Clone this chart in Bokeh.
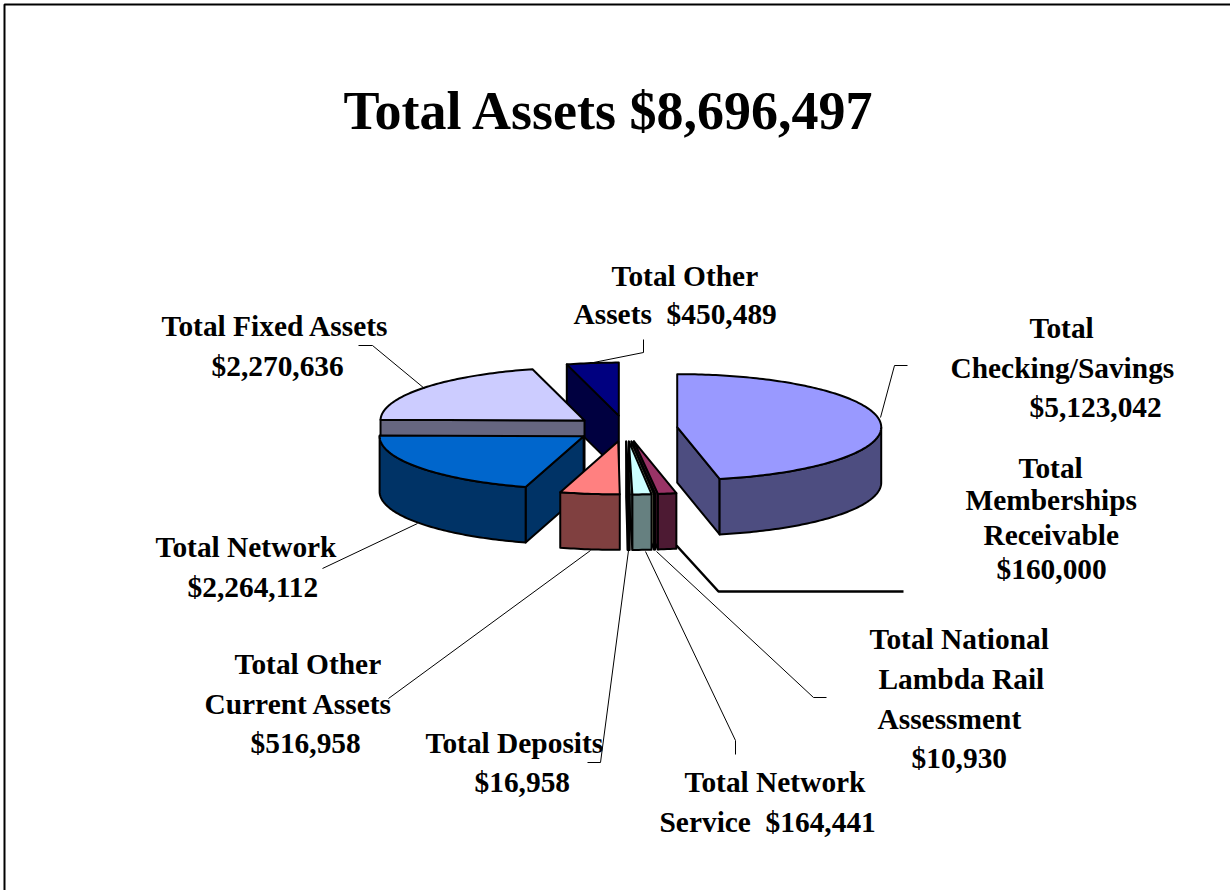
import math
from bokeh.embed import file_html
from bokeh.resources import INLINE
from bokeh.plotting import figure
from bokeh.core.properties import value

# ---- data (in drawing order, clockwise from 12 o'clock) ----
names = ["Total Checking/Savings", "Total Memberships Receivable",
         "Total National Lambda Rail Assessment", "Total Network Service",
         "Total Deposits", "Total Other Current Assets", "Total Network",
         "Total Fixed Assets", "Total Other Assets"]
amounts = [5123042, 160000, 10930, 164441, 16958, 516958, 2264112, 2270636, 450489]
top_colors = ["#9999FF", "#993366", "#FFFFCC", "#CCFFFF", "#660066",
              "#FF8080", "#0066CC", "#CCCCFF", "#000080"]
side_colors = ["#4D4D80", "#4D1A33", "#808066", "#668080", "#330033",
               "#804040", "#003366", "#666680", "#000040"]
paint_order = [8, 7, 6, 0, 1, 2, 3, 4, 5]

title_text = "Total Assets $8,696,497"
label_lines = ["Total Other", "Assets\u00a0\u00a0$450,489",
               "Total Fixed Assets", "$2,270,636",
               "Total", "Checking/Savings", "$5,123,042",
               "Total", "Memberships", "Receivable", "$160,000",
               "Total Network", "$2,264,112",
               "Total Other", "Current Assets", "$516,958",
               "Total Deposits", "$16,958",
               "Total National", "Lambda Rail", "Assessment", "$10,930",
               "Total Network", "Service\u00a0\u00a0$164,441"]

# ---- layout (page pixels) ----
label_x = [611, 573, 161, 211, 1029, 950, 1029, 1018, 965, 983, 996, 155, 187,
           234, 204, 250, 425, 474, 869, 878, 877, 911, 684, 659]
label_y = [275, 313, 325, 365, 327, 367, 406, 467, 499, 534, 568, 546, 586,
           663, 703, 742, 742, 781, 638, 678, 718, 757, 781, 821]
leaders = [
    ([358, 372, 424], [345, 345, 388], 1),
    ([593, 643, 643], [362, 352, 339], 1),
    ([880, 894, 907], [417, 365, 365], 1),
    ([417, 322], [523, 568], 1),
    ([590, 388], [550, 698], 1),
    ([628, 600, 587], [550, 762, 762], 1),
    ([645, 735, 735], [551, 740, 754], 1),
    ([656, 813, 826], [551, 697, 697], 1),
    ([676, 718, 903], [545, 591, 591], 2.5),
]
CX, CY, RX, RY, EX, EY, DEPTH = 625, 428, 204, 53, 52, 13, 55.5

W, H = 1230, 890
p = figure(width=W, height=H, x_range=(0, W), y_range=(H, 0), toolbar_location=None,
           output_backend="svg", min_border=0, outline_line_color=None,
           background_fill_color="white", border_fill_color="white")
p.axis.visible = False
p.grid.visible = False

total = sum(amounts)
edges = [0.0]
for v in amounts:
    edges.append(edges[-1] + 360.0 * v / total)

xs, ys, fills = [], [], []
def add(poly, color):
    xs.append([q[0] for q in poly]); ys.append([q[1] for q in poly]); fills.append(color)

for i in paint_order:
    a0, a1 = edges[i], edges[i + 1]
    mid = math.radians((a0 + a1) / 2)
    ax = CX + EX * math.sin(mid)
    ay = CY - EY * math.cos(mid)
    def pt(deg):
        r = math.radians(deg)
        return (ax + RX * math.sin(r), ay - RY * math.cos(r))
    def down(q):
        return (q[0], q[1] + DEPTH)
    if a0 > 180:          # start face turned to the viewer
        e = pt(a0)
        add([(ax, ay), e, down(e), (ax, ay + DEPTH)], side_colors[i])
    if a1 < 180:          # end face turned to the viewer
        e = pt(a1)
        add([(ax, ay), e, down(e), (ax, ay + DEPTH)], side_colors[i])
    r0, r1 = max(a0, 90), min(a1, 270)
    if r1 > r0:           # rim
        n = max(3, int(r1 - r0) + 2)
        arc = [pt(r0 + (r1 - r0) * k / (n - 1)) for k in range(n)]
        add(arc + [down(q) for q in reversed(arc)], side_colors[i])
    n = max(3, int(a1 - a0) + 2)
    add([(ax, ay)] + [pt(a0 + (a1 - a0) * k / (n - 1)) for k in range(n)], top_colors[i])

p.patches(xs, ys, fill_color=fills, line_color="black", line_width=2, line_join="round")

# frame: left and top rule of the slide
p.line([4, 4, W], [H, 4, 4], line_color="black", line_width=2)

for lx, ly, lw in leaders:
    p.line(lx, ly, line_color="black", line_width=lw)

font = value("Liberation Serif")
p.text(label_x, label_y, text=label_lines, text_font=font, text_font_style="bold",
       text_font_size="29.4px", text_color="black", text_align="left", text_baseline="alphabetic")
p.text([343], [110], text=[title_text], text_font=font, text_font_style="bold",
       text_font_size="54px", text_color="black", text_align="left", text_baseline="alphabetic")

open("out.html", "w").write(file_html(p, INLINE))
